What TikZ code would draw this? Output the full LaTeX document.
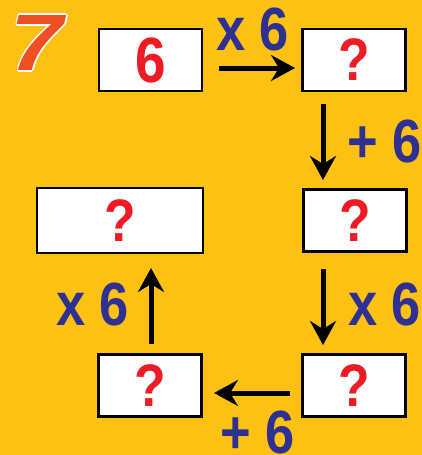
\documentclass[tikz,border=0pt]{standalone}
\usepackage{fontspec}
\newfontfamily\numfont[FakeStretch=0.86]{Liberation Sans}
\newfontfamily\bignumfont[FakeStretch=1.18]{Liberation Sans}
\usetikzlibrary{arrows.meta}

\definecolor{bgyellow}{RGB}{252,193,18}
\definecolor{opblue}{RGB}{46,49,146}
\definecolor{numred}{RGB}{237,28,36}
\definecolor{sevenred}{RGB}{240,78,35}

\tikzset{
    numbox/.style={draw=black, line width=2.5pt, fill=white, inner sep=0pt,
        minimum width=103pt, minimum height=62pt, text=numred,
        font=\numfont\bfseries\fontsize{60}{60}\selectfont},
    widebox/.style={numbox, minimum width=166pt, minimum height=65pt},
    oplabel/.style={anchor=base west, inner sep=0pt, text=opblue,
        font=\numfont\bfseries\fontsize{61}{61}\selectfont},
    steparrow/.style={line width=5pt, -{Stealth[length=24pt,width=26pt,inset=8pt]}},
    sevenfont/.style={inner sep=0pt, font=\bignumfont\bfseries\itshape\fontsize{80}{80}\selectfont}
}

\begin{document}
\begin{tikzpicture}[x=1pt, y=-1pt]
    % background
    \fill[bgyellow] (0,0) rectangle (422,455);
    \useasboundingbox (0,0) rectangle (422,455);

    % puzzle number with white outline
    \foreach \i/\dx/\dy in {1/1.6/0, 2/-1.6/0, 3/0/1.6, 4/0/-1.6, 5/1.1/1.1, 6/-1.1/1.1, 7/1.1/-1.1, 8/-1.1/-1.1}
        \node[sevenfont, text=white] (seven-\i) at (37+\dx,43+\dy) {7};
    \node[sevenfont, text=sevenred] (seven) at (37,43) {7};

    % boxes of the chain
    \node[numbox, font=\numfont\bfseries\fontsize{64}{64}\selectfont] (start) at (150.5,60) {6};
    \node[numbox] (stepa) at (354,60) {?};
    \node[numbox] (stepb) at (355,220.5) {?};
    \node[numbox] (stepc) at (354,385.5) {?};
    \node[numbox] (stepd) at (150,385.5) {?};
    \node[widebox] (result) at (120,220.5) {?};

    % arrow end points (arrows stand off the box centres)
    \coordinate (ab1) at (219,68);
    \coordinate (ae1) at (295,68);
    \coordinate (ab2) at (323,104);
    \coordinate (ae2) at (323,180);
    \coordinate (ab3) at (323,269);
    \coordinate (ae3) at (323,345);
    \coordinate (ab4) at (290,393);
    \coordinate (ae4) at (214,393);
    \coordinate (ab5) at (151,344);
    \coordinate (ae5) at (151,268);

    \draw[steparrow] (ab1) -- (ae1);
    \draw[steparrow] (ab2) -- (ae2);
    \draw[steparrow] (ab3) -- (ae3);
    \draw[steparrow] (ab4) -- (ae4);
    \draw[steparrow] (ab5) -- (ae5);

    % operations
    \node[oplabel] (op1) at (216,50) {x 6};
    \node[oplabel] (op2) at (347,162) {+ 6};
    \node[oplabel] (op3) at (348,325) {x 6};
    \node[oplabel] (op4) at (220,453) {+ 6};
    \node[oplabel] (op5) at (56,325) {x 6};
\end{tikzpicture}
\end{document}
